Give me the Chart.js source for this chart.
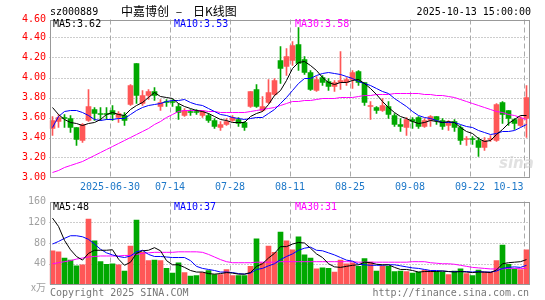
<!DOCTYPE html>
<html>
<head>
<meta charset="utf-8">
<script src="https://cdn.jsdelivr.net/npm/chart.js@4/dist/chart.umd.min.js"></script>
<style>
body{margin:0;background:#fff}
#wrap{position:relative;width:545px;height:300px}
canvas{position:absolute;left:0;top:0}
</style>
</head>
<body>
<div id="wrap"><canvas id="k" width="545" height="300"></canvas><canvas id="v" width="545" height="300"></canvas></div>
<script>
const days = ['06-16','06-17','06-18','06-19','06-20','06-23','06-24','06-25','06-26','06-27',
'06-30','07-01','07-02','07-03','07-04','07-07','07-08','07-09','07-10','07-11',
'07-14','07-15','07-16','07-17','07-18','07-21','07-22','07-23','07-24','07-25',
'07-28','07-29','07-30','07-31','08-01','08-04','08-05','08-06','08-07','08-08',
'08-11','08-12','08-13','08-14','08-15','08-18','08-19','08-20','08-21','08-22',
'08-25','08-26','08-27','08-28','08-29','09-01','09-02','09-03','09-04','09-05',
'09-08','09-09','09-10','09-11','09-12','09-15','09-16','09-17','09-18','09-19',
'09-22','09-23','09-24','09-25','09-26','09-29','09-30','10-09','10-10','10-13']

const open = [3.49,3.56,3.60,3.59,3.50,3.37,3.57,3.68,3.64,3.64,
3.67,3.60,3.62,3.73,4.14,3.74,3.82,3.86,3.71,3.76,
3.76,3.71,3.62,3.66,3.66,3.62,3.62,3.57,3.50,3.53,
3.57,3.58,3.55,3.71,3.88,3.67,3.75,3.83,4.17,4.11,
4.17,4.33,4.18,4.05,3.87,4.00,3.96,3.91,3.95,3.95,
3.98,4.06,3.95,3.71,3.70,3.67,3.71,3.62,3.53,3.50,
3.58,3.60,3.51,3.57,3.61,3.57,3.52,3.56,3.50,3.38,
3.39,3.37,3.30,3.38,3.37,3.75,3.67,3.58,3.52,3.59]
const high = [3.61,3.63,3.63,3.62,3.50,3.54,3.88,3.70,3.70,3.70,
3.72,3.66,3.65,3.93,4.14,3.87,3.88,3.90,3.78,3.78,
3.78,3.74,3.69,3.68,3.68,3.67,3.64,3.59,3.56,3.59,
3.62,3.60,3.56,3.86,3.93,3.81,3.98,3.99,4.31,4.29,
4.36,4.50,4.21,4.07,4.01,4.02,3.99,3.97,4.26,4.00,
4.07,4.07,3.95,3.76,3.71,3.79,3.76,3.64,3.59,3.60,
3.60,3.61,3.59,3.62,3.61,3.59,3.57,3.58,3.52,3.41,
3.41,3.40,3.40,3.42,3.74,3.76,3.67,3.59,3.61,3.92]
const low = [3.42,3.50,3.50,3.45,3.32,3.35,3.56,3.57,3.57,3.58,
3.57,3.55,3.52,3.72,3.74,3.72,3.78,3.77,3.67,3.71,
3.71,3.58,3.61,3.62,3.63,3.60,3.55,3.49,3.47,3.52,
3.56,3.51,3.47,3.70,3.70,3.66,3.74,3.82,3.94,4.02,
4.12,4.07,4.03,3.87,3.86,3.92,3.87,3.86,3.88,3.92,
3.89,3.92,3.72,3.58,3.64,3.66,3.59,3.51,3.46,3.42,
3.49,3.49,3.50,3.51,3.53,3.48,3.47,3.46,3.33,3.32,
3.33,3.21,3.27,3.36,3.36,3.54,3.52,3.48,3.51,3.40]
const close = [3.57,3.60,3.59,3.50,3.38,3.53,3.71,3.64,3.63,3.63,
3.63,3.64,3.57,3.92,3.82,3.82,3.86,3.82,3.75,3.75,
3.75,3.65,3.67,3.65,3.65,3.66,3.57,3.51,3.53,3.56,
3.60,3.54,3.50,3.86,3.71,3.71,3.85,3.97,4.09,4.21,
4.32,4.14,4.05,3.88,3.98,3.95,3.91,3.95,3.97,3.98,
4.05,3.95,3.75,3.72,3.67,3.72,3.63,3.53,3.51,3.58,
3.56,3.51,3.57,3.61,3.57,3.51,3.55,3.50,3.37,3.39,
3.38,3.30,3.37,3.39,3.73,3.63,3.59,3.54,3.59,3.80]

const ma5 = [3.70,3.63,3.58,3.55,3.54,3.52,3.54,3.55,3.58,3.63,
3.65,3.63,3.62,3.68,3.72,3.75,3.80,3.85,3.81,3.80,
3.79,3.74,3.71,3.69,3.67,3.66,3.64,3.61,3.58,3.57,
3.55,3.55,3.55,3.61,3.64,3.66,3.73,3.82,3.87,3.97,
4.09,4.15,4.16,4.12,4.07,4.00,3.95,3.93,3.95,3.95,
3.97,3.98,3.94,3.89,3.83,3.76,3.70,3.65,3.61,3.59,
3.56,3.54,3.55,3.57,3.56,3.55,3.56,3.55,3.50,3.46,
3.44,3.39,3.36,3.37,3.43,3.48,3.54,3.58,3.62,3.62]
const ma10 = [3.50,3.61,3.66,3.67,3.67,3.65,3.62,3.58,3.57,3.58,
3.58,3.59,3.59,3.63,3.67,3.70,3.72,3.73,3.74,3.76,
3.77,3.77,3.78,3.75,3.73,3.72,3.69,3.66,3.63,3.62,
3.60,3.59,3.58,3.59,3.60,3.60,3.64,3.68,3.74,3.80,
3.87,3.94,3.99,3.99,4.02,4.04,4.05,4.04,4.03,4.01,
3.99,3.96,3.94,3.92,3.89,3.86,3.84,3.79,3.75,3.71,
3.66,3.62,3.60,3.59,3.57,3.55,3.55,3.55,3.53,3.51,
3.50,3.47,3.45,3.43,3.44,3.46,3.46,3.47,3.50,3.53]
const ma30 = [3.05,3.07,3.10,3.12,3.14,3.16,3.19,3.22,3.25,3.28,
3.31,3.34,3.37,3.40,3.43,3.46,3.49,3.53,3.56,3.60,
3.63,3.66,3.67,3.67,3.67,3.67,3.66,3.66,3.65,3.65,
3.65,3.65,3.65,3.66,3.67,3.68,3.69,3.70,3.72,3.74,
3.76,3.76,3.77,3.77,3.78,3.79,3.79,3.79,3.80,3.80,
3.80,3.81,3.82,3.82,3.83,3.83,3.83,3.84,3.84,3.84,
3.84,3.84,3.83,3.83,3.82,3.82,3.81,3.80,3.78,3.76,
3.74,3.72,3.70,3.68,3.66,3.65,3.63,3.62,3.60,3.58]

const vol = [65,63,51,47,36,38,126,84,44,39,
40,38,26,74,124,62,46,47,46,31,
22,42,23,16,17,23,27,19,19,29,
17,17,17,35,88,42,74,62,101,84,
67,92,57,51,30,32,31,24,47,40,
42,35,50,43,26,35,35,25,26,25,
22,24,28,27,25,24,19,26,30,21,
17,28,24,24,46,76,39,30,29,67]
const vma5 = [128,112,85,67,54,47,60,66,66,66,
67,49,37,43,60,65,66,71,65,46,
38,38,33,27,24,24,21,20,21,23,
22,20,20,23,35,40,51,60,73,73,
78,81,80,70,59,52,40,34,33,35,
37,38,43,42,39,38,38,33,29,29,
27,24,25,25,25,26,25,24,25,24,
23,24,24,23,28,40,42,43,44,48]
const vma10 = [78,83,89,94,94,92,87,78,68,61,
57,54,52,55,63,66,58,54,54,53,
52,52,52,46,35,31,29,27,24,24,
23,21,20,22,29,31,36,40,48,54,
59,66,70,72,66,65,61,57,52,47,
45,39,38,37,37,37,38,38,36,34,
32,31,29,27,27,26,25,25,25,25,
24,25,24,24,26,31,33,34,33,37]
const vma30 = [40,42,44,46,49,51,53,54,55,55,
55,55,56,56,58,60,61,62,62,62,
62,63,63,63,63,62,58,53,48,44,
42,42,42,42,43,43,43,43,44,44,
44,44,44,44,44,44,44,44,44,44,
44,43,43,43,43,43,43,43,43,43,
44,44,44,42,41,40,40,39,37,35,
33,32,31,30,30,30,31,31,31,31]

const priceTicks = [3.00,3.20,3.40,3.60,3.80,4.00,4.20,4.40,4.60]
const volTicks = [40,80,120,160]
const xTickLabels = ['2025-06-30','07-14','07-28','08-11','08-25','09-08','09-22','10-13']

const UP = '#ff5757', DOWN = '#00a800'
const MONO = '"DejaVu Sans Mono", "Liberation Mono", monospace'
const colors = close.map((c,i)=> c >= open[i] ? UP : DOWN)
const xIdx = xTickLabels.map(t => days.indexOf(t.slice(-5)))

const line = (data, color)=>({type:'line', data:data, borderColor:color, borderWidth:1, pointRadius:0, tension:0, order:0})

// grid, frame and vertical dashed lines shared by both panels
const drawGrid = (chart, ticks)=>{
    const {ctx, chartArea:a, scales:{x, y}} = chart
    const half = (x.getPixelForValue(1) - x.getPixelForValue(0))/2
    ctx.save()
    ctx.lineWidth = 1
    ctx.strokeStyle = '#9a9a9a'
    ctx.setLineDash([1,2])
    for(let v of ticks){
        let yy = Math.round(y.getPixelForValue(v)) + 0.5
        if(yy <= a.top + 2 || yy >= a.bottom - 2) continue
        ctx.beginPath(); ctx.moveTo(a.left, yy); ctx.lineTo(a.right, yy); ctx.stroke()
    }
    ctx.strokeStyle = '#aaaaaa'
    ctx.setLineDash([5,3])
    for(let i of xIdx){
        let xx = Math.round(x.getPixelForValue(i) - half) + 0.5
        ctx.beginPath(); ctx.moveTo(xx, a.top); ctx.lineTo(xx, a.bottom); ctx.stroke()
    }
    ctx.restore()
}
const drawFrame = (chart)=>{
    const {ctx, chartArea:a} = chart
    ctx.save()
    ctx.strokeStyle = '#999'
    ctx.lineWidth = 1
    let l = Math.round(a.left) + 0.5, r = Math.round(a.right) - 0.5
    let t = Math.round(a.top) + 0.5, b = Math.round(a.bottom) - 0.5
    ctx.strokeRect(l, t, r - l, b - t)
    ctx.restore()
}
const text = (ctx, s, x, y, color, font, align)=>{
    ctx.fillStyle = color
    ctx.font = font
    ctx.textAlign = align || 'left'
    ctx.textBaseline = 'middle'
    ctx.fillText(s, x, y)
}

const kPlugin = {
    id:'kpanel',
    beforeDatasetsDraw(chart){ drawGrid(chart, priceTicks) },
    afterDraw(chart){
        const {ctx, chartArea:a, scales:{x, y}} = chart
        drawFrame(chart)
        ctx.save()
        const f = '10px ' + MONO
        for(let v of priceTicks){
            let yy = Math.max(y.getPixelForValue(v), a.top)
            text(ctx, v.toFixed(2), 46, yy, '#ff0000', f, 'right')
        }
        const half = (x.getPixelForValue(1) - x.getPixelForValue(0))/2
        ctx.font = f
        xTickLabels.forEach((t, k)=>{
            let xx = Math.round(x.getPixelForValue(xIdx[k]) - half)
            let w = ctx.measureText(t).width
            xx = Math.min(xx, a.right - 6 - w/2)
            text(ctx, t, xx, 187, '#1e78c8', f, 'center')
        })
        text(ctx, 'sz000889', 50, 12, '#000', f)
        const cjk = '12px "Noto Sans CJK SC"'
        text(ctx, '中嘉博创', 121, 11, '#000', cjk)
        text(ctx, '–', 179, 11, '#000', cjk, 'center')
        text(ctx, '日K线图', 193, 11, '#000', cjk)
        text(ctx, '2025-10-13 15:00:00', 531, 12, '#000', f, 'right')
        let last = close.length - 1
        text(ctx, 'MA5:' + ma5[last].toFixed(2), 53, 24, '#000', f)
        text(ctx, 'MA10:' + ma10[last].toFixed(2), 174, 24, '#0000ff', f)
        text(ctx, 'MA30:' + ma30[last].toFixed(2), 295, 24, '#ff00ff', f)
        text(ctx, 'sina', 499, 164, 'rgba(205,205,205,0.6)', 'italic bold 15px "DejaVu Sans"')
        ctx.restore()
    }
}

const vPlugin = {
    id:'vpanel',
    beforeDatasetsDraw(chart){ drawGrid(chart, volTicks) },
    afterDraw(chart){
        const {ctx, chartArea:a, scales:{y}} = chart
        drawFrame(chart)
        ctx.save()
        const f = '10px ' + MONO
        for(let v of volTicks){
            let yy = Math.max(y.getPixelForValue(v), a.top)
            text(ctx, String(v), 46, yy, '#a0a0a0', f, 'right')
        }
        text(ctx, 'x万', 46, 287, '#a0a0a0', '10px "Noto Sans CJK SC"', 'right')
        let last = vol.length - 1
        text(ctx, 'MA5:' + vma5[last], 53, 207, '#000', f)
        text(ctx, 'MA10:' + vma10[last], 174, 207, '#0000ff', f)
        text(ctx, 'MA30:' + vma30[last], 295, 207, '#ff00ff', f)
        text(ctx, 'Copyright 2025 SINA.COM', 50, 293, '#777', f)
        text(ctx, 'http://finance.sina.com.cn', 529, 293, '#777', f, 'right')
        ctx.restore()
    }
}

const baseOptions = (pad, ymin, ymax)=>({
    responsive:false,
    animation:false,
    devicePixelRatio:1,
    layout:{padding:pad},
    plugins:{legend:{display:false}, tooltip:{enabled:false}},
    scales:{
        x:{type:'category', display:false, offset:true},
        y:{type:'linear', display:false, min:ymin, max:ymax}
    }
})

var kChart = new Chart(document.getElementById('k').getContext('2d'), {
    type:'bar',
    data:{
        labels:days,
        datasets:[
            line(ma5, '#000000'),
            line(ma10, '#0000ff'),
            line(ma30, '#ff00ff'),
            {data:open.map((o,i)=>[o, close[i]]), backgroundColor:colors, barThickness:5, grouped:false, borderWidth:0, order:2},
            {data:low.map((l,i)=>[l, high[i]]), backgroundColor:colors, barThickness:1, grouped:false, borderWidth:0, order:3}
        ]
    },
    options:baseOptions({left:49.5, right:15.5, top:19.5, bottom:122.5}, 3.0, 4.58),
    plugins:[kPlugin]
})

var vChart = new Chart(document.getElementById('v').getContext('2d'), {
    type:'bar',
    data:{
        labels:days,
        datasets:[
            line(vma5, '#000000'),
            line(vma10, '#0000ff'),
            line(vma30, '#ff00ff'),
            {data:vol, backgroundColor:colors, barThickness:5, grouped:false, borderWidth:0, order:2}
        ]
    },
    options:baseOptions({left:49.5, right:15.5, top:201.5, bottom:15.5}, 0, 160),
    plugins:[vPlugin]
})
</script>
</body>
</html>
